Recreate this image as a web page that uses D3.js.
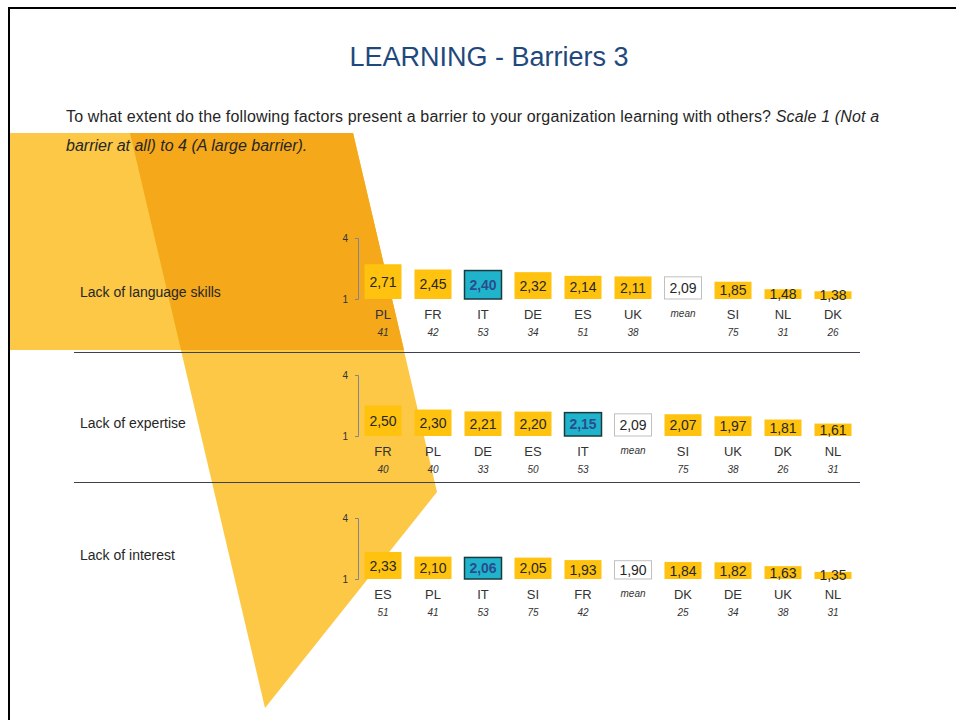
<!DOCTYPE html>
<html>
<head>
<meta charset="utf-8">
<script src="https://cdn.jsdelivr.net/npm/d3@7"></script>
<style>
  body { margin: 0; background: #fff; }
  svg { display: block; font-family: "Liberation Sans", Arial, sans-serif; }
</style>
</head>
<body>
<svg id="chart" width="956" height="720"></svg>
<script>
// data
const rowTitles = ["Lack of language skills", "Lack of expertise", "Lack of interest"];
const row1Countries = ["PL", "FR", "IT", "DE", "ES", "UK", "mean", "SI", "NL", "DK"];
const row1Values = [2.71, 2.45, 2.40, 2.32, 2.14, 2.11, 2.09, 1.85, 1.48, 1.38];
const row1N = [41, 42, 53, 34, 51, 38, null, 75, 31, 26];
const row2Countries = ["FR", "PL", "DE", "ES", "IT", "mean", "SI", "UK", "DK", "NL"];
const row2Values = [2.50, 2.30, 2.21, 2.20, 2.15, 2.09, 2.07, 1.97, 1.81, 1.61];
const row2N = [40, 40, 33, 50, 53, null, 75, 38, 26, 31];
const row3Countries = ["ES", "PL", "IT", "SI", "FR", "mean", "DK", "DE", "UK", "NL"];
const row3Values = [2.33, 2.10, 2.06, 2.05, 1.93, 1.90, 1.84, 1.82, 1.63, 1.35];
const row3N = [51, 41, 53, 75, 42, null, 25, 34, 38, 31];
const scaleTicks = [1, 4];

const rows = [
  { title: rowTitles[0], countries: row1Countries, values: row1Values, n: row1N },
  { title: rowTitles[1], countries: row2Countries, values: row2Values, n: row2N },
  { title: rowTitles[2], countries: row3Countries, values: row3Values, n: row3N }
];

const svg = d3.select("#chart");
const fmt = v => d3.format(".2f")(v).replace(".", ",");

// background decoration
const light = "#fcc845", dark = "#f5a81a";
const poly = pts => "M" + pts.map(p => p.join(",")).join("L") + "Z";
svg.append("path").attr("d", poly([[10,133],[353,133],[404,350],[10,350]])).attr("fill", light);
svg.append("path").attr("d", poly([[130,133],[353,133],[437,492],[265,708]])).attr("fill", light);
svg.append("path").attr("d", poly([[130,133],[353,133],[404,350],[181,350]])).attr("fill", dark);

// frame
svg.append("path")
  .attr("d", "M9,720 V8 H956")
  .attr("fill", "none")
  .attr("stroke", "#000")
  .attr("stroke-width", 2);

// title
svg.append("text")
  .attr("x", 489).attr("y", 66)
  .attr("text-anchor", "middle")
  .attr("fill", "#1f497d")
  .style("font-size", "27px")
  .text("LEARNING - Barriers 3");

const q = svg.append("text")
  .attr("x", 66).attr("y", 122)
  .attr("fill", "#262626")
  .style("font-size", "16px")
  .style("letter-spacing", "0.15px");
q.append("tspan").text("To what extent do the following factors present a barrier to your organization learning with others? ");
q.append("tspan").style("font-style", "italic").text("Scale 1 (Not a");
svg.append("text")
  .attr("x", 66).attr("y", 151)
  .attr("fill", "#262626")
  .style("font-size", "16px")
  .style("font-style", "italic")
  .text("barrier at all) to 4 (A large barrier).");

// separators
[352.5, 482.5].forEach(y => {
  svg.append("line")
    .attr("x1", 74).attr("x2", 860)
    .attr("y1", y).attr("y2", y)
    .attr("stroke", "#3c4150")
    .attr("stroke-width", 1);
});

const rowBase = [299, 436, 579];
const labelY = [292, 423, 555];
const boxW = 37;

rows.forEach((row, r) => {
  const base = rowBase[r];
  const y = d3.scaleLinear().domain([1, 4]).range([base, base - 61]);
  const x = d3.scaleBand().domain(row.countries).range([358, 858]).paddingInner(0);

  svg.append("text")
    .attr("x", 80).attr("y", labelY[r])
    .attr("dy", "0.35em")
    .attr("fill", "#262626")
    .style("font-size", "14px")
    .text(row.title);

  // bracket axis
  const ax = svg.append("g").attr("transform", "translate(358,0)");
  ax.call(d3.axisLeft(y).tickValues(scaleTicks).tickSize(3).tickFormat(d3.format("d")));
  ax.select(".domain").attr("stroke", "#7f8591");
  ax.selectAll(".tick line").attr("stroke", "#7f8591");
  ax.selectAll(".tick text")
    .attr("fill", "#333")
    .attr("x", -10)
    .style("font-size", "10px")
    .style("font-family", "Liberation Sans, Arial, sans-serif");

  const g = svg.append("g");
  row.countries.forEach((c, i) => {
    const v = row.values[i];
    const cx = x(c) + x.bandwidth() / 2;
    const isMean = c === "mean";
    const isIT = c === "IT";
    g.append("rect")
      .attr("x", cx - boxW / 2)
      .attr("y", y(v))
      .attr("width", boxW)
      .attr("height", y(1) - y(v))
      .attr("fill", isMean ? "#fff" : isIT ? "#1fb4cc" : "#ffc20e")
      .attr("stroke", isMean ? "#c0c0c0" : isIT ? "#1c3a3c" : "none")
      .attr("stroke-width", isIT ? 1.5 : 1);
    g.append("text")
      .attr("x", cx)
      .attr("y", (y(v) + y(1)) / 2)
      .attr("dy", "0.36em")
      .attr("text-anchor", "middle")
      .attr("fill", isIT ? "#2b4c8c" : "#262626")
      .style("font-size", "14px")
      .style("font-weight", isIT ? "bold" : "normal")
      .text(fmt(v));
    g.append("text")
      .attr("x", cx)
      .attr("y", base + (isMean ? 14 : 15))
      .attr("dy", "0.35em")
      .attr("text-anchor", "middle")
      .attr("fill", "#333")
      .style("font-size", isMean ? "10px" : "13px")
      .style("font-style", isMean ? "italic" : "normal")
      .text(c);
    if (row.n[i] != null) {
      g.append("text")
        .attr("x", cx)
        .attr("y", base + 33)
        .attr("dy", "0.35em")
        .attr("text-anchor", "middle")
        .attr("fill", "#333")
        .style("font-size", "10px")
        .style("font-style", "italic")
        .text(row.n[i]);
    }
  });
});
</script>
</body>
</html>
